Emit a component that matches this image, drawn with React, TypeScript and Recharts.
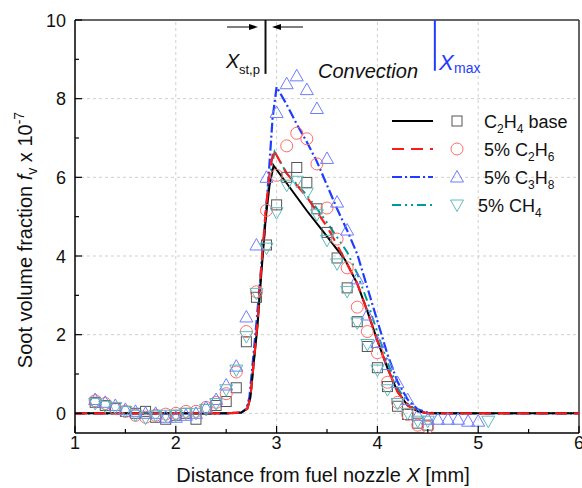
import React from "react";
import {
  ComposedChart,
  Line,
  Scatter,
  XAxis,
  YAxis,
  ReferenceLine,
} from "recharts";

// ---------- model curves ----------
const baseModelX = [1, 2.5, 2.65, 2.71, 2.74, 2.77, 2.81, 2.85, 2.89, 2.93, 2.97, 3.1, 3.3, 3.5, 3.68, 3.8, 3.9, 4.0, 4.1, 4.2, 4.3, 4.4, 4.5, 6];
const baseModelY = [0, 0, 0.02, 0.12, 0.4, 1.2, 2.2, 3.6, 4.9, 5.8, 6.3, 5.85, 5.15, 4.5, 3.9, 3.3, 2.6, 1.85, 1.15, 0.55, 0.2, 0.05, 0, 0];

const c2h6ModelX = [1, 2.5, 2.65, 2.71, 2.74, 2.77, 2.81, 2.85, 2.89, 2.93, 2.97, 3.1, 3.3, 3.5, 3.68, 3.8, 3.9, 4.0, 4.1, 4.2, 4.3, 4.4, 4.5, 6];
const c2h6ModelY = [0, 0, 0.02, 0.12, 0.4, 1.2, 2.3, 3.8, 5.1, 6.1, 6.7, 6.1, 5.5, 4.75, 3.9, 3.3, 2.6, 1.85, 1.15, 0.55, 0.2, 0.05, 0, 0];

const c3h8ModelX = [1, 2.5, 2.65, 2.7, 2.73, 2.76, 2.8, 2.84, 2.88, 2.92, 2.96, 3.0, 3.1, 3.2, 3.3, 3.4, 3.5, 3.6, 3.7, 3.8, 3.9, 4.0, 4.1, 4.2, 4.3, 4.4, 4.5, 4.6, 6];
const c3h8ModelY = [0, 0, 0.02, 0.12, 0.4, 1.2, 2.3, 3.5, 4.6, 6.0, 7.5, 8.3, 7.85, 7.35, 6.9, 6.4, 5.8, 5.2, 4.65, 4.05, 3.2, 2.35, 1.5, 0.8, 0.35, 0.1, 0.02, 0, 0];

const ch4ModelX = [1, 2.5, 2.65, 2.71, 2.74, 2.77, 2.81, 2.85, 2.89, 2.93, 2.98, 3.1, 3.3, 3.5, 3.7, 3.8, 3.9, 4.0, 4.1, 4.2, 4.3, 4.4, 4.5, 6];
const ch4ModelY = [0, 0, 0.02, 0.12, 0.4, 1.2, 2.3, 3.8, 5.1, 6.0, 6.65, 6.1, 5.55, 4.85, 4.1, 3.55, 2.85, 2.05, 1.3, 0.65, 0.25, 0.06, 0, 0];

// ---------- measurements ----------
const baseExpX = [1.2, 1.3, 1.4, 1.5, 1.6, 1.7, 1.8, 1.9, 2.0, 2.1, 2.2, 2.3, 2.4, 2.5, 2.6, 2.7, 2.8, 2.9, 3.0, 3.1, 3.2, 3.3, 3.4, 3.5, 3.6, 3.7, 3.8, 3.9, 4.0, 4.1, 4.2, 4.3, 4.4, 4.5];
const baseExpY = [0.28, 0.2, 0.12, 0.05, 0.0, 0.05, -0.1, -0.15, -0.05, 0.0, -0.15, 0.1, 0.2, 0.3, 0.65, 1.82, 2.95, 4.28, 5.3, 6.0, 6.25, 5.87, 5.2, 4.6, 3.95, 3.19, 2.33, 1.7, 1.16, 0.68, 0.18, -0.03, -0.25, -0.3];

const c2h6ExpX = [1.2, 1.3, 1.4, 1.5, 1.6, 1.7, 1.8, 1.9, 2.0, 2.1, 2.2, 2.3, 2.4, 2.5, 2.6, 2.7, 2.8, 2.9, 3.0, 3.1, 3.2, 3.3, 3.4, 3.5, 3.6, 3.7, 3.8, 3.9, 4.0, 4.1, 4.2, 4.3, 4.4, 4.5];
const c2h6ExpY = [0.32, 0.25, 0.12, 0.05, -0.05, -0.1, -0.05, -0.02, 0.0, 0.05, 0.05, 0.15, 0.28, 0.5, 1.05, 2.08, 3.09, 5.16, 6.05, 6.8, 7.12, 6.98, 6.34, 5.22, 4.43, 3.7, 2.7, 2.08, 1.54, 0.79, 0.28, -0.03, -0.3, -0.35];

const c3h8ExpX = [1.2, 1.3, 1.4, 1.5, 1.6, 1.7, 1.8, 1.9, 2.0, 2.1, 2.2, 2.3, 2.4, 2.5, 2.6, 2.7, 2.8, 2.9, 3.0, 3.1, 3.2, 3.3, 3.4, 3.5, 3.6, 3.7, 3.8, 3.9, 4.0, 4.1, 4.2, 4.3, 4.4, 4.5, 4.6, 4.7, 4.8, 4.9, 5.0];
const c3h8ExpY = [0.35, 0.28, 0.2, 0.1, 0.05, 0.0, 0.0, -0.1, -0.1, -0.05, 0.0, 0.15, 0.35, 0.72, 1.2, 2.45, 4.28, 6.0, 7.65, 8.38, 8.58, 8.23, 7.75, 6.48, 5.37, 4.66, 3.42, 2.5, 1.8, 1.24, 0.78, 0.35, -0.05, -0.15, -0.15, -0.15, -0.15, -0.2, -0.2];

const ch4ExpX = [1.2, 1.3, 1.4, 1.5, 1.6, 1.7, 1.8, 1.9, 2.0, 2.1, 2.2, 2.3, 2.4, 2.5, 2.6, 2.7, 2.8, 2.9, 3.0, 3.1, 3.2, 3.3, 3.4, 3.5, 3.6, 3.7, 3.8, 3.9, 4.0, 4.1, 4.2, 4.3, 4.4, 4.5, 5.1];
const ch4ExpY = [0.25, 0.18, 0.15, 0.05, -0.05, -0.12, -0.05, -0.05, -0.05, 0.0, 0.0, 0.1, 0.25, 0.6, 1.1, 1.95, 3.05, 4.2, 5.1, 5.8, 5.9, 5.6, 5.05, 4.4, 3.8, 3.1, 2.3, 1.75, 1.1, 0.6, 0.25, 0.0, -0.2, -0.2, -0.2];

// ---------- axes ----------
const xTicks = [1, 1.5, 2, 2.5, 3, 3.5, 4, 4.5, 5, 5.5, 6];
const yTicks = [0, 1, 2, 3, 4, 5, 6, 7, 8, 9, 10];
const xGrid = [2, 3, 4, 5];
const yGrid = [0, 2, 4, 6, 8];
const xStP = 2.89;
const xMax = 4.57;

const zip = (xs: number[], ys: number[]) => xs.map((x, i) => ({ x, y: ys[i] }));

const baseModel = zip(baseModelX, baseModelY);
const c2h6Model = zip(c2h6ModelX, c2h6ModelY);
const c3h8Model = zip(c3h8ModelX, c3h8ModelY);
const ch4Model = zip(ch4ModelX, ch4ModelY);
const baseExp = zip(baseExpX, baseExpY);
const c2h6Exp = zip(c2h6ExpX, c2h6ExpY);
const c3h8Exp = zip(c3h8ExpX, c3h8ExpY);
const ch4Exp = zip(ch4ExpX, ch4ExpY);

const FONT = "'Liberation Sans', Arial, sans-serif";

const C_BLACK = "#000000";
const C_RED = "#ff1a1a";
const C_BLUE = "#1f3cff";
const C_TEAL = "#009a9a";
const M_GREY = "#555555";
const M_RED = "#ff6a6a";
const M_BLUE = "#6d7dff";
const M_TEAL = "#5fbcbc";

const Square = ({ cx, cy }: any) =>
  cx == null ? null : (
    <rect x={cx - 5} y={cy - 5} width={10} height={10} fill="none" stroke={M_GREY} strokeWidth={1} />
  );
const Circ = ({ cx, cy }: any) =>
  cx == null ? null : <circle cx={cx} cy={cy} r={6} fill="none" stroke={M_RED} strokeWidth={1} />;
const TriUp = ({ cx, cy }: any) =>
  cx == null ? null : (
    <polygon
      points={`${cx - 6.5},${cy + 5} ${cx + 6.5},${cy + 5} ${cx},${cy - 6.5}`}
      fill="none"
      stroke={M_BLUE}
      strokeWidth={1}
    />
  );
const TriDown = ({ cx, cy }: any) =>
  cx == null ? null : (
    <polygon
      points={`${cx - 6.5},${cy - 5} ${cx + 6.5},${cy - 5} ${cx},${cy + 6.5}`}
      fill="none"
      stroke={M_TEAL}
      strokeWidth={1}
    />
  );

const XTick = (props: any) => {
  const { x, y, payload } = props;
  const v = payload.value;
  const major = Math.abs(v - Math.round(v)) < 1e-6;
  return (
    <g>
      <line x1={x} x2={x} y1={y} y2={y - (major ? 7 : 4)} stroke="#000" strokeWidth={1.2} />
      {major && (
        <text x={x} y={y + 16} textAnchor="middle" fontSize={18} fontFamily={FONT} fill="#111">
          {v}
        </text>
      )}
    </g>
  );
};

const YTick = (props: any) => {
  const { x, y, payload } = props;
  const v = payload.value;
  const major = v % 2 === 0;
  return (
    <g>
      <line x1={x} x2={x + (major ? 7 : 4)} y1={y} y2={y} stroke="#000" strokeWidth={1.2} />
      {major && (
        <text x={x - 9} y={y + 6.5} textAnchor="end" fontSize={18} fontFamily={FONT} fill="#111">
          {v}
        </text>
      )}
    </g>
  );
};

const legendRows = [
  { color: C_BLACK, dash: undefined, width: 2, marker: "sq" },
  { color: C_RED, dash: "12 7", width: 2.2, marker: "ci" },
  { color: C_BLUE, dash: "10 3 2 3", width: 2.2, marker: "tu" },
  { color: C_TEAL, dash: "9 4 2 4 2 4", width: 2, marker: "td" },
];

const Overlay = () => {
  const markerFor = (m: string, cx: number, cy: number) =>
    m === "sq" ? <Square cx={cx} cy={cy} /> : m === "ci" ? <Circ cx={cx} cy={cy} /> : m === "tu" ? <TriUp cx={cx} cy={cy} /> : <TriDown cx={cx} cy={cy} />;
  return (
    <svg
      width={582}
      height={488}
      style={{ position: "absolute", left: 0, top: 0, pointerEvents: "none" }}
      fontFamily={FONT}
    >
      {/* legend */}
      {legendRows.map((r, i) => (
        <g key={i}>
          <line x1={392} x2={433} y1={121 + i * 28} y2={121 + i * 28} stroke={r.color} strokeWidth={r.width} strokeDasharray={r.dash} />
          {markerFor(r.marker, 457, 121 + i * 28)}
        </g>
      ))}
      <text x={484} y={128} fontSize={18} fill="#111">
        C<tspan dy={5} fontSize={12}>2</tspan>
        <tspan dy={-5}>H</tspan>
        <tspan dy={5} fontSize={12}>4</tspan>
        <tspan dy={-5}> base</tspan>
      </text>
      <text x={484} y={156} fontSize={18} fill="#111">
        5% C<tspan dy={5} fontSize={12}>2</tspan>
        <tspan dy={-5}>H</tspan>
        <tspan dy={5} fontSize={12}>6</tspan>
      </text>
      <text x={484} y={184} fontSize={18} fill="#111">
        5% C<tspan dy={5} fontSize={12}>3</tspan>
        <tspan dy={-5}>H</tspan>
        <tspan dy={5} fontSize={12}>8</tspan>
      </text>
      <text x={478} y={212} fontSize={18} fill="#111">
        5% CH<tspan dy={5} fontSize={12}>4</tspan>
      </text>

      {/* annotations */}
      <line x1={227} x2={250} y1={27} y2={27} stroke="#000" strokeWidth={1} />
      <polygon points="258,27 249,24 249,30" fill="#000" />
      <line x1={280} x2={303} y1={27} y2={27} stroke="#000" strokeWidth={1} />
      <polygon points="272,27 281,24 281,30" fill="#000" />
      <text x={226} y={68} fontSize={20} fontStyle="italic" fill="#111">
        X
      </text>
      <text x={239} y={74} fontSize={13} fill="#111">
        st,p
      </text>
      <text x={318} y={78} fontSize={20} fontStyle="italic" fill="#111">
        Convection
      </text>
      <text x={439} y={70} fontSize={22} fontStyle="italic" fill={C_BLUE}>
        X
      </text>
      <text x={454} y={73} fontSize={14} fill={C_BLUE}>
        max
      </text>

      {/* axis labels */}
      <text x={323} y={482} textAnchor="middle" fontSize={20} fill="#111">
        Distance from fuel nozzle <tspan fontStyle="italic">X</tspan> [mm]
      </text>
      <text transform="translate(32,240) rotate(-90)" textAnchor="middle" fontSize={20} fill="#111">
        Soot volume fraction <tspan fontStyle="italic">f</tspan>
        <tspan dy={5} fontSize={14}>v</tspan>
        <tspan dy={-5}> x 10</tspan>
        <tspan dy={-8} fontSize={14}>-7</tspan>
      </text>
    </svg>
  );
};

export default function App() {
  return (
    <div style={{ position: "absolute", left: 0, top: 0, width: 582, height: 488, background: "#fff" }}>
      <ComposedChart width={582} height={488} margin={{ top: 20, right: 3, bottom: 0, left: 0 }}>
        <XAxis
          dataKey="x"
          type="number"
          domain={[1, 6]}
          ticks={xTicks}
          interval={0}
          tick={<XTick />}
          tickLine={false}
          tickSize={0}
          tickMargin={0}
          height={55}
          axisLine={{ stroke: "#000", strokeWidth: 1.5 }}
          allowDataOverflow
        />
        <YAxis
          dataKey="y"
          type="number"
          domain={[-0.5, 10]}
          ticks={yTicks}
          interval={0}
          tick={<YTick />}
          tickLine={false}
          tickSize={0}
          tickMargin={0}
          width={75}
          axisLine={{ stroke: "#000", strokeWidth: 1.5 }}
          allowDataOverflow
        />
        {xGrid.map((v) => (
          <ReferenceLine key={"gx" + v} x={v} stroke="#cfcfcf" strokeDasharray="3 3" strokeWidth={1} />
        ))}
        {yGrid.map((v) => (
          <ReferenceLine key={"gy" + v} y={v} stroke="#cfcfcf" strokeDasharray="3 3" strokeWidth={1} />
        ))}
        <ReferenceLine y={10} stroke="#333" strokeWidth={1.5} />
        <ReferenceLine x={6} stroke="#333" strokeWidth={1.5} />
        <ReferenceLine segment={[{ x: xStP, y: 10 }, { x: xStP, y: 8.63 }]} stroke="#111" strokeWidth={2} />
        <ReferenceLine segment={[{ x: xMax, y: 10 }, { x: xMax, y: 8.71 }]} stroke={C_BLUE} strokeWidth={2} />

        <Scatter data={baseExp} dataKey="y" shape={<Square />} isAnimationActive={false} />
        <Scatter data={c2h6Exp} dataKey="y" shape={<Circ />} isAnimationActive={false} />
        <Scatter data={c3h8Exp} dataKey="y" shape={<TriUp />} isAnimationActive={false} />
        <Scatter data={ch4Exp} dataKey="y" shape={<TriDown />} isAnimationActive={false} />

        <Line data={c3h8Model} dataKey="y" type="linear" stroke={C_BLUE} strokeWidth={2.2} strokeDasharray="10 3 2 3" dot={false} activeDot={false} isAnimationActive={false} />
        <Line data={ch4Model} dataKey="y" type="linear" stroke={C_TEAL} strokeWidth={2} strokeDasharray="9 4 2 4 2 4" dot={false} activeDot={false} isAnimationActive={false} />
        <Line data={baseModel} dataKey="y" type="linear" stroke={C_BLACK} strokeWidth={2} dot={false} activeDot={false} isAnimationActive={false} />
        <Line data={c2h6Model} dataKey="y" type="linear" stroke={C_RED} strokeWidth={2.2} strokeDasharray="12 7" dot={false} activeDot={false} isAnimationActive={false} />
      </ComposedChart>
      <Overlay />
    </div>
  );
}
